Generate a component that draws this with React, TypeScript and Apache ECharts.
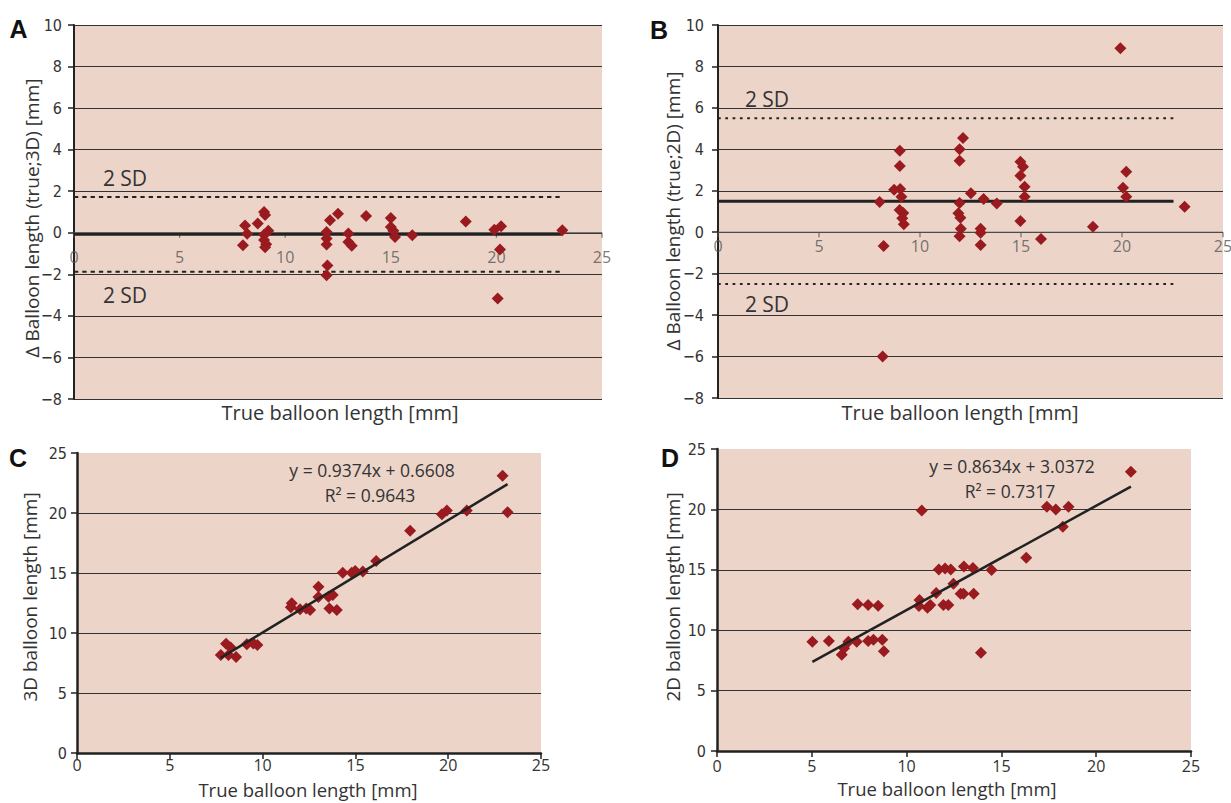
import React, { useEffect, useRef } from "react";
import * as echarts from "echarts";

// ---------- data ----------
const diffTickInterval = 2;
const lengthTickInterval = 5;
const lengthTicks = [0, 5, 10, 15, 20, 25];

// Panel A: true length vs (true - 3D) difference
const pointsA: [number, number][] = [
  [8.1, 0.35], [8.2, -0.05], [8.0, -0.6], [8.7, 0.45], [9.0, 1.0], [9.05, 0.85],
  [9.2, 0.1], [9.0, -0.1], [9.0, -0.35], [9.1, -0.55], [9.05, -0.7],
  [12.12, 0.6], [12.5, 0.92], [11.96, 0.04], [11.96, -0.28], [11.96, -0.57],
  [12.0, -1.58], [11.96, -2.04], [12.99, -0.04], [12.99, -0.44], [13.15, -0.62],
  [13.83, 0.81], [15.0, 0.71], [15.0, 0.28], [15.12, 0.1], [15.2, -0.2],
  [16.02, -0.12], [18.55, 0.54], [19.9, 0.15], [20.22, 0.31], [20.17, -0.81],
  [20.06, -3.16], [23.12, 0.12],
];
const meanA = -0.07;
const sdUpperA = 1.72;
const sdLowerA = -1.88;
const refEndA = 23.1;

// Panel B: true length vs (true - 2D) difference
const pointsB: [number, number][] = [
  [8.0, 1.46], [8.2, -0.67], [8.15, -6.0], [8.72, 2.05], [9.0, 3.93], [9.0, 3.2],
  [9.02, 2.08], [9.08, 1.71], [8.99, 1.07], [9.17, 0.93], [9.12, 0.67], [9.2, 0.38],
  [12.13, 4.55], [11.96, 4.0], [11.96, 3.45], [12.52, 1.88], [11.96, 1.41],
  [13.15, 1.6], [13.8, 1.39], [11.9, 0.91], [12.0, 0.7], [12.02, 0.17],
  [11.96, -0.2], [13.0, 0.17], [13.0, -0.03], [13.0, -0.62], [14.97, 3.4],
  [15.1, 3.16], [14.97, 2.73], [15.18, 2.2], [15.18, 1.71], [14.97, 0.54],
  [15.99, -0.33], [18.56, 0.27], [19.92, 8.88], [20.21, 2.92], [20.05, 2.15],
  [20.21, 1.71], [23.1, 1.23],
];
const meanB = 1.49;
const sdUpperB = 5.5;
const sdLowerB = -2.5;
const refEndB = 22.55;

// Panel C: true length vs 3D length
const pointsC: [number, number][] = [
  [7.75, 8.16], [8.03, 9.1], [8.28, 8.8], [8.16, 8.16], [8.57, 8.01], [9.15, 9.07],
  [9.5, 9.13], [9.72, 8.99], [11.57, 12.47], [11.52, 12.14], [12.02, 11.97],
  [12.35, 12.05], [12.56, 11.91], [13.01, 13.86], [13.01, 13.0], [13.55, 13.02],
  [13.78, 13.16], [13.6, 12.05], [14.0, 11.91], [14.32, 15.02], [14.8, 15.02],
  [14.99, 15.17], [15.4, 15.12], [16.12, 16.0], [17.95, 18.53], [19.66, 19.9],
  [19.93, 20.2], [21.0, 20.2], [22.93, 23.1], [23.2, 20.07],
];
const fitSlopeC = 0.9374;
const fitInterceptC = 0.6608;
const fitR2C = 0.9643;
const fitRangeC = [7.75, 23.2];

// Panel D: true length vs 2D length
const pointsD: [number, number][] = [
  [5.03, 9.05], [5.9, 9.1], [6.58, 7.97], [6.7, 8.5], [6.93, 9.05], [7.37, 9.05],
  [7.42, 12.14], [7.97, 12.09], [8.5, 12.03], [7.97, 9.1], [8.25, 9.2], [8.72, 9.2],
  [8.8, 8.25], [10.8, 19.9], [10.68, 12.5], [10.65, 12.0], [11.1, 11.85],
  [11.25, 12.09], [11.56, 13.08], [11.7, 15.02], [12.03, 15.1], [12.33, 15.02],
  [12.47, 13.85], [11.94, 12.09], [12.2, 12.09], [12.85, 13.02], [13.0, 13.02],
  [13.54, 13.02], [13.02, 15.28], [13.5, 15.15], [14.48, 14.98], [13.92, 8.14],
  [16.31, 16.0], [17.4, 20.22], [17.87, 20.0], [18.54, 20.22], [18.24, 18.57],
  [21.83, 23.12],
];
const fitSlopeD = 0.8634;
const fitInterceptD = 3.0372;
const fitR2D = 0.7317;
const fitRangeD = [5.03, 21.83];

// ---------- styles ----------
const NARROW = '"Liberation Sans Narrow", "DejaVu Sans Condensed", "Roboto Condensed", sans-serif';
const REG = '"Open Sans", "Liberation Sans", sans-serif';
const BOLD = '"Liberation Sans", Arial, sans-serif';
const PINK = "#ecd4c9";
const MARK = "#9a1b1f";
const INK = "#222";
const TXT = "#333";

const minus = (v: number) => (v < 0 ? "\u2212" + Math.abs(v) : String(v));

function fitLine(slope: number, intercept: number, range: number[]) {
  return range.map((x) => [x, slope * x + intercept]);
}

function text(x: number, y: number, t: string, size: number, opts: any = {}) {
  return {
    type: "text",
    x,
    y,
    rotation: opts.rotation || 0,
    style: {
      text: t,
      fill: opts.color || TXT,
      fontSize: size,
      fontFamily: opts.family || REG,
      fontWeight: opts.weight || "normal",
      textAlign: opts.align || "center",
      textVerticalAlign: "middle",
      align: opts.align || "center",
      verticalAlign: "middle",
    },
  };
}

export default function App() {
  const ref = useRef<HTMLDivElement>(null);
  useEffect(() => {
    if (!ref.current) return;
    const chart = echarts.init(ref.current, null, { renderer: "svg" });

    const grids = [
      { left: 74, top: 25, width: 528, height: 374 },
      { left: 718, top: 25, width: 505, height: 373 },
      { left: 77, top: 453, width: 464, height: 300 },
      { left: 717, top: 449, width: 474, height: 302 },
    ].map((g) => ({ ...g, show: true, backgroundColor: PINK, borderWidth: 0 }));

    const diffX = (i: number) => ({
      type: "value",
      gridIndex: i,
      min: 0,
      max: 25,
      interval: lengthTickInterval,
      axisLine: { show: false },
      axisTick: { show: false },
      axisLabel: { show: false },
      splitLine: { show: false },
    });
    const lenX = (i: number, margin: number) => ({
      type: "value",
      gridIndex: i,
      min: 0,
      max: 25,
      interval: lengthTickInterval,
      axisLine: { onZero: false, lineStyle: { color: INK, width: 2.5 } },
      axisTick: { show: true, length: 6, lineStyle: { color: INK, width: 1.5 } },
      axisLabel: { color: TXT, fontSize: 16, fontFamily: REG, margin },
      splitLine: { show: false },
    });
    const diffY = (i: number, margin: number) => ({
      type: "value",
      gridIndex: i,
      min: -8,
      max: 10,
      interval: diffTickInterval,
      axisLine: { show: true, onZero: false, lineStyle: { color: INK, width: 2 } },
      axisTick: { show: true, length: 6, lineStyle: { color: INK, width: 1.5 } },
      axisLabel: { color: TXT, fontSize: 16, fontFamily: NARROW, margin, formatter: minus },
      splitLine: { show: true, lineStyle: { color: "#333", width: 1 } },
    });
    const lenY = (i: number, margin: number) => ({
      type: "value",
      gridIndex: i,
      min: 0,
      max: 25,
      interval: lengthTickInterval,
      axisLine: { show: true, onZero: false, lineStyle: { color: INK, width: 2.5 } },
      axisTick: { show: true, length: 6, lineStyle: { color: INK, width: 1.5 } },
      axisLabel: { color: TXT, fontSize: 16, fontFamily: NARROW, margin },
      splitLine: { show: true, showMaxLine: false, lineStyle: { color: "#333", width: 1 } },
    });

    const scatter = (i: number, data: [number, number][], z = 5) => ({
      type: "scatter",
      xAxisIndex: i,
      yAxisIndex: i,
      data,
      symbol: "diamond",
      symbolSize: 12,
      itemStyle: { color: MARK, opacity: 1 },
      z,
    });
    const hline = (i: number, y: number, end: number, style: any, z = 3) => ({
      type: "line",
      xAxisIndex: i,
      yAxisIndex: i,
      data: [[0, y], [end, y]],
      showSymbol: false,
      symbol: "none",
      lineStyle: style,
      z,
      silent: true,
    });
    // x axis drawn along y = 0 in the difference panels (ticks + labels)
    const zeroAxisTicks = (i: number, distance: number) => ({
      type: "scatter",
      xAxisIndex: i,
      yAxisIndex: i,
      data: lengthTicks.map((v) => [v, 0]),
      symbol: "rect",
      symbolSize: [1.2, 5],
      symbolOffset: [0, 2.5],
      itemStyle: { color: "#555" },
      silent: true,
      clip: false,
      z: 2,
      label: {
        show: true,
        position: "bottom",
        distance,
        color: "#555",
        fontSize: 16,
        fontFamily: REG,
        formatter: (p: any) => String(p.value[0]),
      },
    });
    const trend = (i: number, data: number[][]) => ({
      type: "line",
      xAxisIndex: i,
      yAxisIndex: i,
      data,
      showSymbol: false,
      symbol: "none",
      lineStyle: { color: INK, width: 2.5 },
      z: 6,
      silent: true,
    });

    const graphic = [
      text(18.5, 29, "A", 25, { family: BOLD, weight: "bold", color: "#111" }),
      text(659, 30, "B", 25, { family: BOLD, weight: "bold", color: "#111" }),
      text(18, 458, "C", 25, { family: BOLD, weight: "bold", color: "#111" }),
      text(670, 458, "D", 25, { family: BOLD, weight: "bold", color: "#111" }),
      text(32, 218, "\u0394 Balloon length (true;3D) [mm]", 19, { rotation: Math.PI / 2 }),
      text(673, 211, "\u0394 Balloon length (true;2D) [mm]", 19, { rotation: Math.PI / 2 }),
      text(30, 597, "3D balloon length [mm]", 19, { rotation: Math.PI / 2 }),
      text(673, 597, "2D balloon length [mm]", 19, { rotation: Math.PI / 2 }),
      text(340, 412, "True balloon length [mm]", 20),
      text(960, 412, "True balloon length [mm]", 20),
      text(308, 789, "True balloon length [mm]", 18.5),
      text(947, 788, "True balloon length [mm]", 18.5),
      text(125, 178, "2 SD", 21),
      text(125, 295, "2 SD", 21),
      text(767, 99, "2 SD", 21),
      text(767, 304, "2 SD", 21),
      text(372, 470, `y = ${fitSlopeC}x + ${fitInterceptC}`, 17.5),
      text(370, 495, `R\u00b2 = ${fitR2C}`, 17.5),
      text(1012, 466, `y = ${fitSlopeD}x + ${fitInterceptD}`, 17.5),
      text(1010, 491, `R\u00b2 = ${fitR2D}`, 17.5),
    ];

    chart.setOption({
      animation: false,
      backgroundColor: "#fff",
      grid: grids,
      xAxis: [diffX(0), diffX(1), lenX(2, 4), lenX(3, 7)],
      yAxis: [diffY(0, 12), diffY(1, 14), lenY(2, 10), lenY(3, 11)],
      series: [
        hline(0, 0, 25, { color: "#555", width: 1 }, 2),
        zeroAxisTicks(0, 11),
        hline(0, meanA, refEndA, { color: INK, width: 3 }),
        hline(0, sdUpperA, refEndA, { color: INK, width: 2, type: [4.3, 4] }),
        hline(0, sdLowerA, refEndA, { color: INK, width: 2, type: [4.3, 4] }),
        scatter(0, pointsA),
        hline(1, 0, 25, { color: "#555", width: 1 }, 2),
        zeroAxisTicks(1, 1),
        hline(1, meanB, refEndB, { color: INK, width: 3 }),
        hline(1, sdUpperB, refEndB, { color: INK, width: 2, type: [2.7, 4.6] }),
        hline(1, sdLowerB, refEndB, { color: INK, width: 2, type: [2.7, 4.6] }),
        scatter(1, pointsB),
        scatter(2, pointsC, 4),
        trend(2, fitLine(fitSlopeC, fitInterceptC, fitRangeC)),
        scatter(3, pointsD, 4),
        trend(3, fitLine(fitSlopeD, fitInterceptD, fitRangeD)),
      ],
      graphic,
    });
    return () => chart.dispose();
  }, []);
  return (
    <div
      ref={ref}
      style={{ position: "absolute", left: 0, top: 0, width: 1231, height: 803 }}
    />
  );
}
